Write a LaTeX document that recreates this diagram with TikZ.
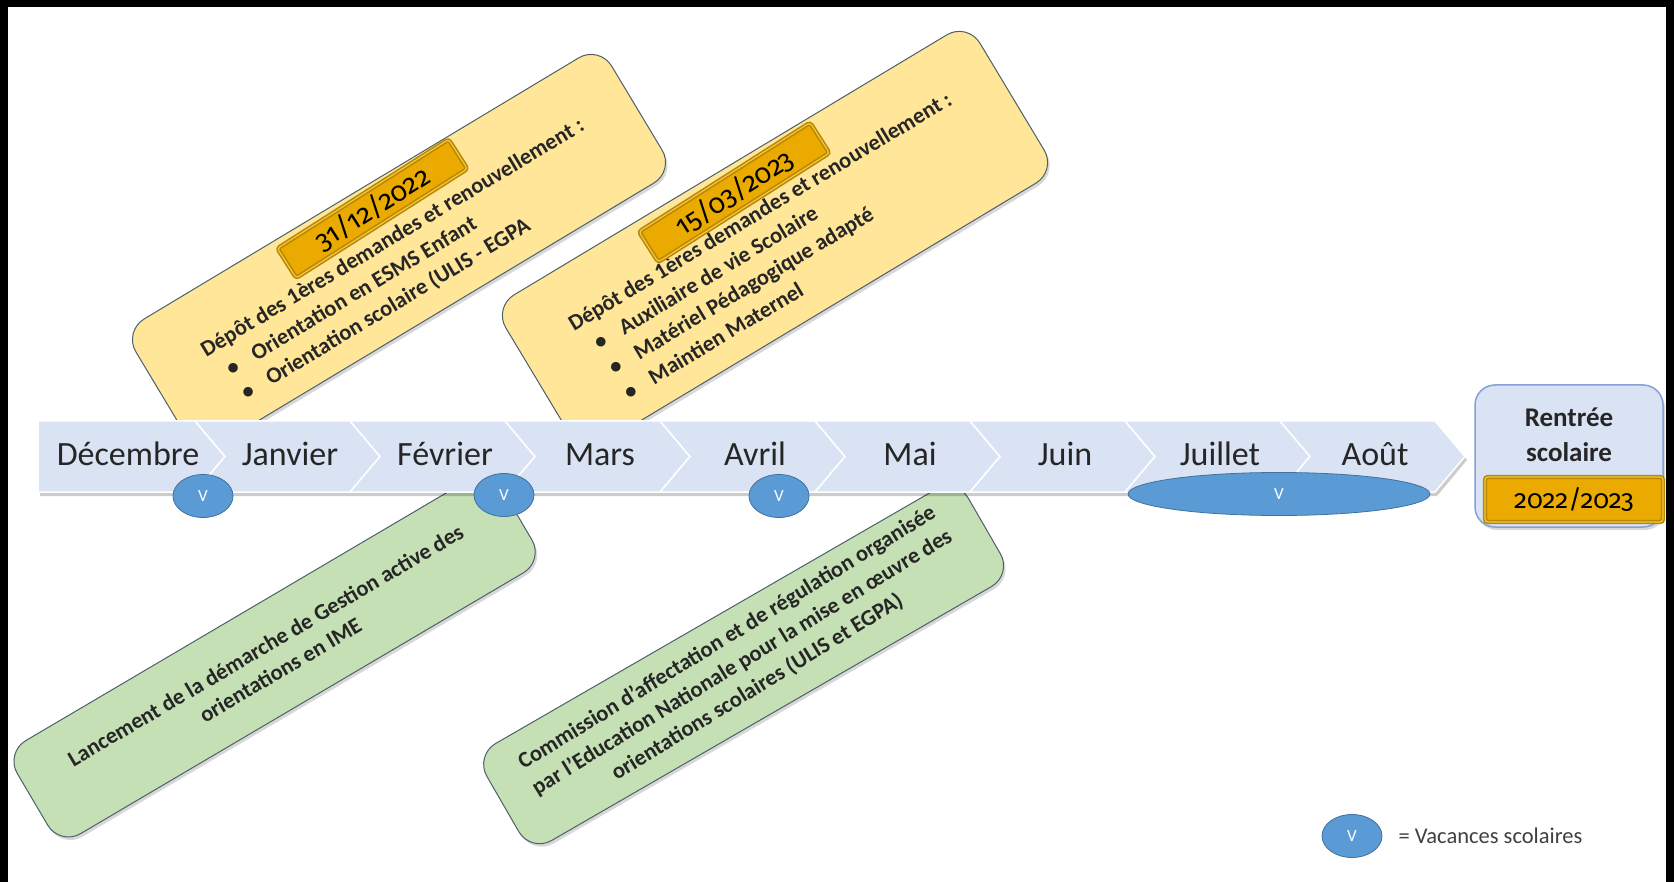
\documentclass[tikz,border=0pt]{standalone}
\usepackage{fontspec}
\setmainfont{Carlito}
\newfontfamily\datefont[Numbers=OldStyle]{Fira Sans}
\usetikzlibrary{shapes.geometric,shadows,positioning}
\definecolor{monthblue}{RGB}{218, 227, 243}
\definecolor{darktext}{RGB}{38, 38, 38}
\definecolor{vacblue}{RGB}{91, 155, 213}
\definecolor{vacedge}{RGB}{65, 113, 156}
\definecolor{noteyellow}{RGB}{255, 230, 153}
\definecolor{notegreen}{RGB}{197, 224, 180}
\definecolor{noteedge}{RGB}{77, 96, 108}
\definecolor{gold}{RGB}{235, 170, 0}
\definecolor{darkgold}{RGB}{185, 135, 5}
\definecolor{lightgold}{RGB}{245, 200, 60}
\definecolor{rentreeedge}{RGB}{132, 160, 214}
\definecolor{legendgray}{RGB}{64, 64, 64}

\begin{document}
\begin{tikzpicture}[
        x=1pt, y=-1pt,
        every node/.style={inner sep=0pt},
        month/.style={anchor=base, text=darktext, font=\fontsize{34}{40}\selectfont},
        chevron/.style={fill=monthblue, draw=white, line width=1.5pt},
        vacances/.style={ellipse, fill=vacblue, draw=vacedge, line width=0.8pt,
            minimum width=60pt, minimum height=43pt, text=white,
            font=\fontsize{17}{20}\selectfont},
        note/.style={rectangle, rounded corners=24pt, draw=noteedge, line width=1pt,
            drop shadow={opacity=0.3, shadow xshift=2pt, shadow yshift=-3pt}},
        notetext/.style={text=darktext, font=\fontsize{22.5}{29}\selectfont\bfseries},
        datebox/.style={rectangle, rounded corners=3pt, fill=gold, draw=darkgold,
            line width=1.6pt, double=lightgold, double distance=1.2pt, text=black,
            font=\datefont\fontsize{27}{30}\selectfont}
    ]

    \useasboundingbox (0,0) rectangle (1674,882);
    \fill[black] (0,0) rectangle (1674,882);
    \fill[white] (8,7) rectangle (1666,882);

    \begin{scope}[shift={(399,251)}, rotate=31, transform shape]
        \node[note, fill=noteyellow, minimum width=555pt, minimum height=146pt] (depot1) at (0,0) {};
        \node[notetext, anchor=base west] (titre1) at (-220,-8) {Dépôt des 1ères demandes et renouvellement :};
        \foreach \t [count=\i] in {Orientation en ESMS Enfant, Orientation scolaire (ULIS - EGPA} {
            \node[notetext, anchor=base west] (puce1\i) at (-208,-8+29*\i) {\textbullet};
            \node[notetext, anchor=base west] (item1\i) at (-179,-8+29*\i) {\t};
        }
        \node[datebox, rotate=1.5, minimum width=203pt, minimum height=35pt] (date1) at (-1,-50) {31/12/2022};
    \end{scope}

    \begin{scope}[shift={(775,239)}, rotate=31, transform shape]
        \node[note, fill=noteyellow, minimum width=553pt, minimum height=173pt] (depot2) at (0,0) {};
        \node[notetext, anchor=base west] (titre2) at (-220,-24) {Dépôt des 1ères demandes et renouvellement :};
        \foreach \t [count=\i] in {Auxiliaire de vie Scolaire, Matériel Pédagogique adapté, Maintien Maternel} {
            \node[notetext, anchor=base west] (puce2\i) at (-208,-24+29*\i) {\textbullet};
            \node[notetext, anchor=base west] (item2\i) at (-179,-24+29*\i) {\t};
        }
        \node[datebox, rotate=1.5, minimum width=203pt, minimum height=36pt] (date2) at (-11,-61) {15/03/2023};
    \end{scope}

    \begin{scope}[shift={(274.6,656.7)}, rotate=30.5, transform shape]
        \node[note, fill=notegreen, minimum width=562pt, minimum height=108pt] (gestion) at (0,0) {};
        \node[notetext, align=center] (gestiontexte) at (-2,0) {Lancement de la démarche de Gestion active des\\orientations en IME};
    \end{scope}

    \begin{scope}[shift={(743.6,665)}, rotate=30, transform shape]
        \node[note, fill=notegreen, minimum width=556pt, minimum height=112pt] (commission) at (0,0) {};
        \node[notetext, align=center, rotate=1.5] (commissiontexte) at (0,-3) {Commission d’affectation et de régulation organisée\\par l’Education Nationale pour la mise en œuvre des\\orientations scolaires (ULIS et EGPA)};
    \end{scope}

    \fill[black, opacity=0.2] (40,425) -- (1437,425) -- (1467,460) -- (1437,496) -- (40,496) -- cycle;
    \filldraw[chevron] (38,421) -- (195,421) -- (225,456.5) -- (195,492) -- (38,492) -- cycle;
    \foreach \k in {1,...,8} {
        \pgfmathsetmacro\xa{40+155*\k}
        \pgfmathsetmacro\xb{195+155*\k}
        \filldraw[chevron] (\xa,421) -- (\xb,421) -- (\xb+30,456.5) -- (\xb,492) -- (\xa,492) -- (\xa+30,456.5) -- cycle;
    }
    \foreach \m [count=\i from 0] in {Décembre, Janvier, Février, Mars, Avril, Mai, Juin, Juillet, Août} {
        \pgfmathsetmacro\mx{\i==0 ? 128 : 135+155*\i}
        \node[month] (mois\i) at (\mx,465) {\m};
    }

    \node[vacances] (v1) at (203,496) {V};
    \node[vacances] (v2) at (504,495) {V};
    \node[vacances] (v3) at (779,496) {V};
    \node[vacances, minimum width=302pt] (v4) at (1279,494) {V};

    \node[rectangle, rounded corners=20pt, fill=monthblue, draw=rentreeedge, line width=1.5pt,
        minimum width=188pt, minimum height=142pt,
        drop shadow={opacity=0.3, shadow xshift=2pt, shadow yshift=-3pt}] (rentree) at (1569,456) {};
    \node[anchor=base, text=darktext, font=\fontsize{27}{32}\selectfont\bfseries] (rentree1) at (1569,427) {Rentrée};
    \node[anchor=base, text=darktext, font=\fontsize{27}{32}\selectfont\bfseries] (rentree2) at (1569,461) {scolaire};
    \node[datebox, minimum width=178pt, minimum height=45pt, font=\datefont\fontsize{26}{30}\selectfont] (annee) at (1574,499.5) {2022/2023};

    \node[vacances] (legende) at (1352,836) {V};
    \node[right=16pt of legende, text=legendgray, font=\fontsize{22.5}{26}\selectfont] (legendetexte) {= Vacances scolaires};

\end{tikzpicture}
\end{document}
